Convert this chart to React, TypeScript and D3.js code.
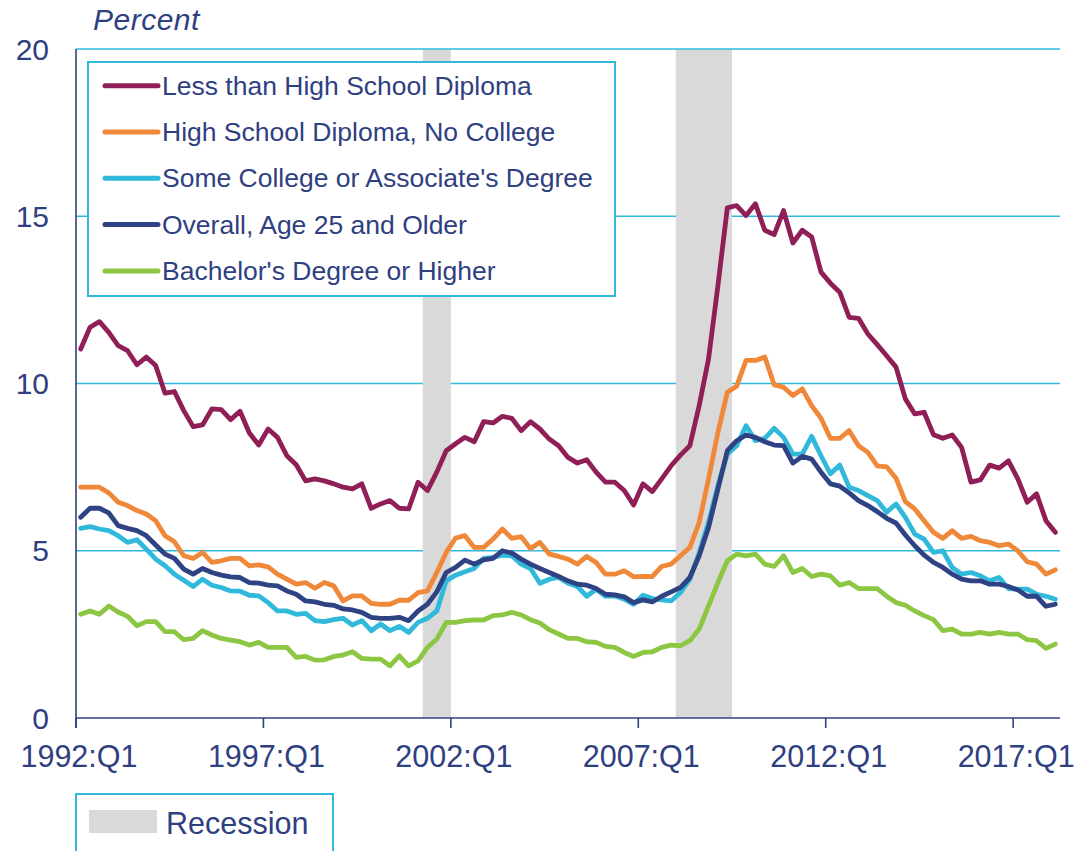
import React from 'react';
import * as d3 from 'd3';

// Quarterly unemployment rates by education, 1992:Q1 - 2018:Q1 (percent)
const lessThanHS = [
  11.03, 11.68, 11.85, 11.53, 11.13, 10.98, 10.56, 10.79, 10.54, 9.71,
  9.76, 9.19, 8.71, 8.76, 9.24, 9.22, 8.92, 9.17, 8.52, 8.16,
  8.64, 8.39, 7.84, 7.57, 7.09, 7.15, 7.09, 7.0, 6.9, 6.85,
  7.0, 6.27, 6.4, 6.5, 6.27, 6.25, 7.05, 6.8, 7.35, 7.99,
  8.2, 8.39, 8.26, 8.86, 8.82, 9.02, 8.96, 8.59, 8.86, 8.64,
  8.34, 8.14, 7.79, 7.62, 7.72, 7.35, 7.05, 7.05, 6.8, 6.37,
  7.0, 6.77, 7.15, 7.54, 7.86, 8.14, 9.34, 10.74, 12.93, 15.25,
  15.32, 15.02, 15.37, 14.58, 14.45, 15.17, 14.2, 14.58, 14.38, 13.33,
  13.0, 12.73, 11.98, 11.95, 11.48, 11.16, 10.83, 10.49, 9.54, 9.09,
  9.14, 8.47, 8.36, 8.46, 8.09, 7.05, 7.12, 7.56, 7.47, 7.69,
  7.15, 6.45, 6.7, 5.9, 5.55,
];

const hsNoCollege = [
  6.9, 6.9, 6.9, 6.73, 6.45, 6.35, 6.2, 6.1, 5.9, 5.45,
  5.27, 4.85, 4.77, 4.95, 4.65, 4.7, 4.77, 4.77, 4.55, 4.58,
  4.52, 4.3, 4.15, 4.0, 4.05, 3.88, 4.05, 3.95, 3.5, 3.65,
  3.65, 3.43, 3.4, 3.4, 3.52, 3.52, 3.75, 3.8, 4.35, 4.95,
  5.38, 5.45, 5.1, 5.1, 5.35, 5.65, 5.37, 5.42, 5.07, 5.25,
  4.9, 4.83, 4.75, 4.6, 4.83, 4.65, 4.3, 4.3, 4.4, 4.22,
  4.23, 4.23, 4.53, 4.6, 4.85, 5.1, 5.85, 7.15, 8.54, 9.74,
  9.92, 10.69, 10.69, 10.79, 9.96, 9.89, 9.64, 9.84, 9.34, 8.96,
  8.36, 8.36, 8.59, 8.14, 7.94, 7.54, 7.51, 7.17, 6.47, 6.25,
  5.9, 5.55, 5.37, 5.6, 5.37, 5.43, 5.3, 5.25, 5.15, 5.2,
  5.0, 4.67, 4.6, 4.3, 4.43,
];

const someCollege = [
  5.67, 5.72, 5.65, 5.6, 5.45, 5.25, 5.33, 5.05, 4.75, 4.55,
  4.3, 4.12, 3.93, 4.15, 3.97, 3.9, 3.8, 3.79, 3.67, 3.65,
  3.45, 3.2, 3.2, 3.1, 3.13, 2.91, 2.88, 2.94, 2.98, 2.78,
  2.91, 2.61, 2.81, 2.61, 2.74, 2.56, 2.86, 2.98, 3.2, 4.1,
  4.27, 4.37, 4.47, 4.77, 4.8, 4.87, 4.85, 4.6, 4.47, 4.03,
  4.15, 4.2, 4.03, 3.93, 3.64, 3.85, 3.64, 3.65, 3.55, 3.4,
  3.67, 3.57, 3.53, 3.5, 3.75, 4.15, 4.95, 5.85, 6.95, 7.89,
  8.14, 8.74, 8.29, 8.36, 8.66, 8.39, 7.89, 7.89, 8.42, 7.84,
  7.3, 7.56, 6.9, 6.8, 6.65, 6.5, 6.15, 6.4, 6.0, 5.5,
  5.35, 4.95, 5.0, 4.5, 4.3, 4.35, 4.25, 4.1, 4.2, 3.87,
  3.85, 3.85, 3.7, 3.64, 3.55,
];

const overall = [
  6.0, 6.27, 6.27, 6.13, 5.75, 5.67, 5.6, 5.45, 5.17, 4.9,
  4.77, 4.45, 4.3, 4.47, 4.35, 4.27, 4.22, 4.2, 4.05, 4.03,
  3.97, 3.95, 3.8, 3.7, 3.5, 3.47, 3.4, 3.37, 3.26, 3.23,
  3.16, 3.01, 2.98, 2.98, 3.01, 2.91, 3.2, 3.4, 3.77, 4.35,
  4.5, 4.72, 4.6, 4.73, 4.77, 5.0, 4.93, 4.75, 4.6, 4.47,
  4.35, 4.23, 4.1, 4.0, 3.97, 3.87, 3.7, 3.68, 3.62, 3.45,
  3.53, 3.47, 3.64, 3.77, 3.9, 4.2, 4.85, 5.7, 6.85, 7.99,
  8.29, 8.46, 8.39, 8.26, 8.16, 8.14, 7.62, 7.82, 7.74, 7.35,
  7.0, 6.93, 6.73, 6.5, 6.35, 6.17, 5.97, 5.83, 5.47, 5.15,
  4.87, 4.65, 4.5, 4.3, 4.15, 4.1, 4.1, 4.0, 4.0, 3.93,
  3.83, 3.64, 3.64, 3.34, 3.4,
];

const bachelors = [
  3.1, 3.2, 3.1, 3.35, 3.17, 3.04, 2.76, 2.88, 2.88, 2.58,
  2.58, 2.34, 2.38, 2.61, 2.48, 2.38, 2.33, 2.28, 2.18, 2.26,
  2.11, 2.11, 2.11, 1.81, 1.84, 1.73, 1.74, 1.84, 1.88, 1.98,
  1.78, 1.76, 1.76, 1.56, 1.86, 1.56, 1.71, 2.11, 2.36, 2.86,
  2.86, 2.91, 2.93, 2.93, 3.06, 3.08, 3.16, 3.08, 2.94, 2.84,
  2.64, 2.51, 2.38, 2.38, 2.28, 2.26, 2.14, 2.11, 1.96, 1.84,
  1.96, 1.98, 2.11, 2.18, 2.16, 2.31, 2.66, 3.35, 4.05, 4.7,
  4.9, 4.85, 4.9, 4.6, 4.53, 4.85, 4.35, 4.47, 4.23, 4.3,
  4.25, 3.97, 4.05, 3.87, 3.87, 3.87, 3.64, 3.45, 3.37, 3.2,
  3.06, 2.94, 2.61, 2.66, 2.51, 2.51, 2.56, 2.51, 2.56, 2.51,
  2.51, 2.34, 2.31, 2.08, 2.21,
];

// category labels, one per quarter
const quarters: string[] = [];
for (let y = 1992; y <= 2018; y++) {
  for (let q = 1; q <= 4; q++) quarters.push(`${y}:Q${q}`);
}
quarters.length = lessThanHS.length;

const tickLabels = ['1992:Q1', '1997:Q1', '2002:Q1', '2007:Q1', '2012:Q1', '2017:Q1'];
const yTicks = [0, 5, 10, 15, 20];
const recessions = [
  ['2001:Q2', '2001:Q4'],
  ['2008:Q1', '2009:Q2'],
];

const seriesNames = [
  'Less than High School Diploma',
  'High School Diploma, No College',
  "Some College or Associate's Degree",
  'Overall, Age 25 and Older',
  "Bachelor's Degree or Higher",
];
const seriesValues = [lessThanHS, hsNoCollege, someCollege, overall, bachelors];
const seriesColors = ['#8F1F56', '#F0883A', '#31B9DC', '#2F4283', '#8DC642'];

const TEXT = '#2F4081';
const GRID = '#31B9DC';
const FONT = 'Arial, "Liberation Sans", sans-serif';

export default function App() {
  const left = 76;
  const right = 1060;
  const top = 49;
  const bottom = 718;

  const x = d3.scaleBand<string>().domain(quarters).range([left, right]).padding(0);
  const bw = x.bandwidth();
  const y = d3.scaleLinear().domain([0, 20]).range([bottom, top]);

  const line = d3
    .line<number>()
    .x((_, i) => (x(quarters[i]) as number) + bw / 2)
    .y((d) => y(d));

  // draw order: bottom series first, maroon last on top
  const drawOrder = [4, 2, 3, 1, 0];

  return (
    <svg
      width={1078}
      height={851}
      style={{ position: 'absolute', left: 0, top: 0, background: '#fff' }}
      fontFamily={FONT}
    >
      {/* gridlines */}
      {yTicks.filter((t) => t > 0 && t < 20).map((t) => (
        <line key={t} x1={left} x2={right} y1={y(t)} y2={y(t)} stroke={GRID} strokeWidth={1.6} />
      ))}

      {/* recession shading */}
      {recessions.map(([a, b]) => (
        <rect
          key={a}
          x={x(a)}
          y={y(20)}
          width={(x(b) as number) + bw - (x(a) as number)}
          height={y(0) - y(20)}
          fill="#D9D9D9"
        />
      ))}
      <line x1={left} x2={right} y1={y(20)} y2={y(20)} stroke={GRID} strokeWidth={1.6} />

      {/* axes */}
      <line x1={left} x2={left} y1={y(20)} y2={bottom + 10} stroke={TEXT} strokeWidth={1.6} />
      <line x1={left} x2={right} y1={bottom} y2={bottom} stroke={TEXT} strokeWidth={1.6} />
      {tickLabels.map((t) => (
        <g key={t}>
          <line x1={x(t)} x2={x(t)} y1={bottom} y2={bottom + 10} stroke={TEXT} strokeWidth={1.6} />
          <text x={(x(t) as number) + 3} y={767} textAnchor="middle" fontSize={30.5} fill={TEXT}>
            {t}
          </text>
        </g>
      ))}
      {yTicks.map((t) => (
        <text key={t} x={49} y={y(t) + 10.5} textAnchor="end" fontSize={30} fill={TEXT}>
          {t}
        </text>
      ))}
      <text x={93} y={30} fontSize={30} fontStyle="italic" fill={TEXT} letterSpacing={0.5}>
        Percent
      </text>

      {/* series */}
      {drawOrder.map((k) => (
        <path
          key={k}
          d={line(seriesValues[k]) ?? ''}
          fill="none"
          stroke={seriesColors[k]}
          strokeWidth={4.8}
          strokeLinejoin="round"
          strokeLinecap="round"
        />
      ))}

      {/* legend */}
      <rect x={88} y={62} width={527} height={234} fill="#fff" stroke={GRID} strokeWidth={2} />
      {seriesNames.map((name, i) => {
        const cy = 85.7 + i * 46.3;
        return (
          <g key={name}>
            <line x1={105} x2={158} y1={cy} y2={cy} stroke={seriesColors[i]} strokeWidth={5} strokeLinecap="round" />
            <text x={162} y={cy + 9} fontSize={26.5} fill={TEXT}>
              {name}
            </text>
          </g>
        );
      })}

      {/* recession legend */}
      <rect x={76} y={794} width={257} height={80} fill="#fff" stroke={GRID} strokeWidth={2} />
      <rect x={89} y={810} width={68} height={23} fill="#D9D9D9" />
      <text x={166} y={834} fontSize={30.5} fill={TEXT}>
        Recession
      </text>
    </svg>
  );
}
